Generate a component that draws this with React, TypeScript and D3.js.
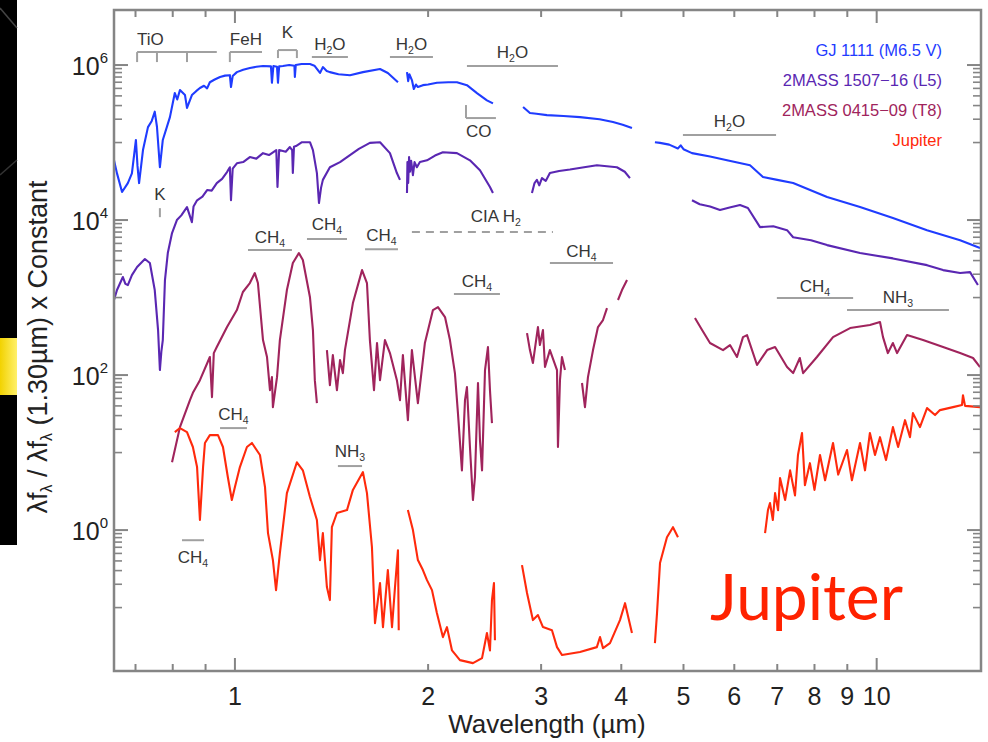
import React from 'react';
import * as d3 from 'd3';

// ---------- DATA (wavelength µm, λfλ normalised) ----------
const gjSeg1: [number, number][] = [[0.648,5.9e4],[0.655,4.0e4],[0.667,2.3e4],[0.681,3.0e4],[0.691,4.0e4],[0.701,1.08e5],[0.705,5.0e4],[0.709,3.0e4],[0.719,8.0e4],[0.732,1.58e5],[0.742,1.9e5],[0.750,2.5e5],[0.756,1.6e5],[0.764,4.8e4],[0.772,1.08e5],[0.792,2.13e5],[0.806,4.35e5],[0.813,3.6e5],[0.821,4.75e5],[0.836,4.1e5],[0.842,2.8e5],[0.857,4.1e5],[0.870,4.6e5],[0.882,5.05e5],[0.895,5.4e5],[0.905,5.0e5],[0.914,6.0e5],[0.930,6.5e5],[0.948,7.0e5],[0.965,7.3e5],[0.982,7.4e5],[0.986,5.2e5],[0.992,7.2e5],[1.007,8.1e5],[1.03,8.7e5],[1.055,9.15e5],[1.08,9.5e5],[1.106,9.7e5],[1.138,9.6e5],[1.142,5.9e5],[1.148,9.7e5],[1.163,9.5e5],[1.167,5.9e5],[1.172,9.6e5],[1.188,9.7e5],[1.215,1.0e6],[1.238,9.8e5],[1.240,7.0e5],[1.244,1.0e6],[1.270,1.03e6],[1.309,1.03e6],[1.33,9.8e5],[1.357,7.9e5],[1.371,9.4e5],[1.39,8.4e5],[1.406,8.1e5],[1.45,7.6e5],[1.511,7.4e5],[1.583,8.1e5],[1.683,8.9e5],[1.731,7.9e5],[1.795,6.0e5]];
const gjSeg2: [number, number][] = [[1.854,8.1e5],[1.862,6.2e5],[1.870,7.6e5],[1.887,6.4e5],[1.900,4.9e5],[1.915,5.6e5],[1.928,5.2e5],[1.963,5.5e5],[2.0,5.6e5],[2.064,5.9e5],[2.15,6.0e5],[2.218,6.0e5],[2.299,5.5e5],[2.383,4.35e5],[2.470,3.5e5],[2.524,3.2e5]];
const gjSeg3: [number, number][] = [[2.812,2.87e5],[2.882,2.4e5],[2.95,2.35e5],[3.063,2.26e5],[3.25,2.2e5],[3.449,2.13e5],[3.7,2.0e5],[3.883,1.84e5],[4.02,1.7e5],[4.156,1.54e5]];
const gjSeg4: [number, number][] = [[4.513,1.01e5],[4.596,9.9e4],[4.75,9.4e4],[4.90,8.4e4],[4.95,9.2e4],[5.0,8.2e4],[5.155,7.3e4],[5.5,6.6e4],[5.845,5.9e4],[6.348,5.1e4],[6.65,3.6e4],[7.0,3.3e4],[7.41,3.0e4],[8.37,1.98e4],[9.42,1.47e4],[10.6,1.06e4],[11.98,7.4e3],[13.49,5.5e3],[14.49,4.35e3]];

const l5Seg1: [number, number][] = [[0.648,930],[0.655,1250],[0.669,1840],[0.675,1500],[0.681,1450],[0.691,1950],[0.704,2480],[0.724,3140],[0.737,2790],[0.750,1250],[0.759,381],[0.764,116],[0.768,200],[0.772,283],[0.778,1680],[0.786,3750],[0.798,6800],[0.812,1.0e4],[0.825,1.15e4],[0.842,1.47e4],[0.857,9400],[0.862,1.5e4],[0.873,1.8e4],[0.89,2.0e4],[0.905,2.44e4],[0.92,2.4e4],[0.937,3.0e4],[0.955,3.4e4],[0.972,4.16e4],[0.982,4.8e4],[0.986,1.8e4],[0.992,4.6e4],[1.007,5.4e4],[1.03,5.6e4],[1.055,6.5e4],[1.08,6.2e4],[1.106,7.3e4],[1.13,6.9e4],[1.160,8.0e4],[1.165,2.67e4],[1.172,8.0e4],[1.2,7.6e4],[1.218,8.75e4],[1.228,8.0e4],[1.231,4.04e4],[1.236,8.8e4],[1.245,9.0e4],[1.272,1.01e5],[1.309,1.01e5],[1.323,8.0e4],[1.342,4.04e4],[1.352,1.66e4],[1.362,2.6e4],[1.371,3.3e4],[1.406,4.8e4],[1.458,5.6e4],[1.511,6.9e4],[1.56,8.3e4],[1.623,9.9e4],[1.683,1.01e5],[1.744,7.3e4],[1.788,4.04e4],[1.808,3.3e4]];
const l5Seg2: [number, number][] = [[1.854,2.23e4],[1.857,5.6e4],[1.862,3.0e4],[1.868,6.5e4],[1.874,4.2e4],[1.882,5.8e4],[1.894,3.8e4],[1.905,5.6e4],[1.921,4.8e4],[1.942,5.6e4],[1.992,5.9e4],[2.05,6.8e4],[2.109,7.5e4],[2.218,7.3e4],[2.324,5.9e4],[2.409,4.4e4],[2.497,2.67e4],[2.524,2.23e4]];
const l5Seg3: [number, number][] = [[2.903,2.23e4],[2.93,3.0e4],[2.955,3.3e4],[2.98,2.8e4],[3.009,3.48e4],[3.05,3.2e4],[3.096,4.04e4],[3.2,4.3e4],[3.327,4.49e4],[3.5,4.8e4],[3.665,5.1e4],[3.937,4.8e4],[4.05,4.2e4],[4.126,3.48e4]];
const l5Seg4: [number, number][] = [[5.155,1.8e4],[5.3,1.6e4],[5.5,1.5e4],[5.70,1.35e4],[5.9,1.45e4],[6.124,1.56e4],[6.30,1.43e4],[6.58,8.1e3],[6.9,8.3e3],[7.25,7.4e3],[7.41,6.0e3],[7.9,5.5e3],[8.37,4.75e3],[9.42,3.75e3],[10.6,3.2e3],[11.98,2.62e3],[12.69,2.26e3],[13.49,2.07e3],[13.98,2.13e3],[14.38,1.45e3]];

const t8Seg1: [number, number][] = [[0.798,7.5],[0.821,21.3],[0.851,47.5],[0.860,59],[0.882,86],[0.914,171],[0.921,52],[0.927,192],[0.937,230],[0.972,416],[1.007,690],[1.029,1180],[1.055,1540],[1.074,2070],[1.086,1540],[1.106,283],[1.122,171],[1.134,64],[1.142,94],[1.146,38.6],[1.163,94],[1.175,283],[1.205,1250],[1.231,2790],[1.258,3750],[1.276,3050],[1.309,1010],[1.323,381],[1.332,86],[1.342,43.5]];
const t8Seg2: [number, number][] = [[1.391,210],[1.406,74],[1.421,181],[1.442,64],[1.458,156],[1.473,106],[1.484,210],[1.527,849],[1.578,2260],[1.606,1540],[1.623,283],[1.647,64],[1.665,259],[1.683,86],[1.713,283],[1.744,192],[1.788,86],[1.808,47.5],[1.827,181],[1.860,26.2],[1.887,210],[1.928,43.5],[1.977,259],[2.035,690],[2.072,754],[2.125,560],[2.163,283],[2.202,106],[2.226,32.3],[2.258,5.9],[2.283,47.5],[2.299,70],[2.324,11.8],[2.349,2.44],[2.366,4.8],[2.392,79],[2.409,14.5],[2.427,5.9],[2.453,116],[2.479,230],[2.497,64],[2.515,24]];
const t8Seg3: [number, number][] = [[2.852,348],[2.882,210],[2.913,143],[2.966,416],[2.987,244],[3.020,381],[3.042,127],[3.096,210],[3.176,116],[3.187,11.8],[3.21,86],[3.233,171],[3.268,116]];
const t8Seg4: [number, number][] = [[3.474,79],[3.511,38.6],[3.549,94],[3.614,210],[3.679,416],[3.746,513],[3.800,732]];
const t8Seg5: [number, number][] = [[3.953,930],[4.010,1250],[4.083,1680]];
const t8Seg6: [number, number][] = [[5.21,544],[5.345,381],[5.499,259],[5.762,210],[5.908,244],[6.058,171],[6.19,309],[6.28,328],[6.51,135],[6.75,210],[6.945,230],[7.25,127],[7.41,106],[7.59,166],[7.68,106],[8.07,171],[8.55,309],[9.09,404],[9.76,442],[10.12,483],[10.23,309],[10.41,192],[10.6,259],[10.76,192],[11.15,328],[11.81,283],[12.69,230],[13.49,192],[14.13,166],[14.49,127]];

const jupSeg1: [number, number][] = [[0.806,18.4],[0.821,20.7],[0.842,18.4],[0.860,11.8],[0.873,6.5],[0.882,1.35],[0.892,6.5],[0.898,13.3],[0.914,16.8],[0.941,16.8],[0.958,11.8],[0.975,4.8],[0.989,2.44],[1.0,3.59],[1.018,6.5],[1.044,11.8],[1.063,13.3],[1.094,9.3],[1.114,3.59],[1.126,0.915],[1.146,0.41],[1.159,0.168],[1.175,0.505],[1.205,3.0],[1.249,7.5],[1.276,5.9],[1.309,2.67],[1.342,1.35],[1.357,0.41],[1.371,0.915],[1.391,0.184],[1.406,0.125],[1.416,1.09],[1.442,1.66],[1.495,1.81],[1.527,3.3],[1.583,5.6],[1.606,3.0],[1.635,0.60],[1.653,0.063],[1.683,0.207],[1.701,0.056],[1.731,0.305],[1.757,0.056],[1.776,0.184],[1.795,0.55],[1.80,0.051]];
const jupSeg2: [number, number][] = [[1.860,1.81],[1.894,1.0],[1.928,0.41],[1.963,0.305],[1.992,0.226],[2.028,0.168],[2.064,0.085],[2.109,0.0416],[2.14,0.056],[2.179,0.028],[2.242,0.021],[2.349,0.0192],[2.427,0.0223],[2.470,0.047],[2.497,0.028],[2.515,0.125],[2.533,0.207],[2.542,0.038]];
const jupSeg3: [number, number][] = [[2.801,0.353],[2.852,0.154],[2.913,0.069],[2.966,0.08],[3.020,0.056],[3.119,0.051],[3.176,0.0309],[3.233,0.0244],[3.449,0.0267],[3.664,0.0309],[3.706,0.0416],[3.746,0.03],[3.841,0.0348],[3.981,0.069],[4.054,0.114],[4.156,0.047]];
const jupSeg4: [number, number][] = [[4.513,0.0348],[4.547,0.085],[4.596,0.375],[4.712,0.81],[4.815,1.09],[4.902,0.81]];
const jupSeg5: [number, number][] = [[6.70,0.915],[6.77,1.81],[6.82,2.23],[6.89,1.35],[6.945,3.0],[7.02,1.81],[7.07,4.69],[7.20,2.44],[7.33,5.9],[7.46,2.8],[7.54,9.3],[7.65,17.9],[7.73,3.8],[7.87,7.3],[8.0,3.3],[8.16,9.3],[8.31,4.4],[8.55,13.3],[8.71,5.2],[8.99,10.8],[9.15,4.4],[9.42,13.3],[9.59,5.9],[9.76,17.9],[9.94,9.3],[10.12,15.8],[10.34,8.0],[10.6,21.3],[10.80,11.8],[11.07,26.2],[11.27,15.8],[11.39,32.3],[11.68,21.3],[11.98,37.5],[12.33,30.5],[12.55,35.3],[13.15,38.6],[13.58,41],[13.63,55],[13.73,40],[14.49,38.6]];

const seriesNames = ['GJ 1111 (M6.5 V)', '2MASS 1507\u221216 (L5)', '2MASS 0415\u221209 (T8)', 'Jupiter'];
const seriesColors = ['#1f3cff', '#5a27b2', '#a0245c', '#ff2a0c'];
const seriesSegments = [
  [gjSeg1, gjSeg2, gjSeg3, gjSeg4],
  [l5Seg1, l5Seg2, l5Seg3, l5Seg4],
  [t8Seg1, t8Seg2, t8Seg3, t8Seg4, t8Seg5, t8Seg6],
  [jupSeg1, jupSeg2, jupSeg3, jupSeg4, jupSeg5],
];

const xTickValues = [0.7, 0.8, 0.9, 1, 2, 3, 4, 5, 6, 7, 8, 9, 10];
const xLabelValues = [1, 2, 3, 4, 5, 6, 7, 8, 9, 10];
const xLongTicks = [1, 10];
const yMajorValues = [1, 1e2, 1e4, 1e6];
const yMajorExponents = ['0', '2', '4', '6'];
const yMinorFactors = [0.1, 0.2, 0.3, 0.4, 0.5, 0.6, 0.7, 0.8, 0.9];

type Ann = { parts: string[]; lo: number; hi: number; level: number; ticks?: number[]; tickDir?: number; tickLen?: number; anchor?: string; gap?: number; below?: boolean; dashed?: boolean; at?: number };
const annotations: Ann[] = [
  { parts: ['TiO'], lo: 0.704, hi: 0.937, level: 1.47e6, ticks: [0.704, 0.756, 0.842], tickDir: 1, tickLen: 10, anchor: 'start' },
  { parts: ['FeH'], lo: 0.982, hi: 1.102, level: 1.47e6, ticks: [0.982], tickDir: 1, tickLen: 10, anchor: 'start' },
  { parts: ['K'], lo: 1.167, hi: 1.249, level: 1.56e6, ticks: [1.167, 1.249], tickDir: 1, tickLen: 8, gap: 12 },
  { parts: ['H', '2', 'O'], lo: 1.318, hi: 1.50, level: 1.27e6 },
  { parts: ['H', '2', 'O'], lo: 1.744, hi: 2.035, level: 1.27e6 },
  { parts: ['H', '2', 'O'], lo: 2.299, hi: 3.187, level: 9.7e5, gap: 8 },
  { parts: ['CO'], lo: 2.291, hi: 2.551, level: 2.07e5, ticks: [2.291], tickDir: -1, tickLen: 13, anchor: 'start', below: true, gap: 19 },
  { parts: ['K'], lo: 0.764, hi: 0.764, level: 1.09e4, ticks: [0.764], tickDir: -1, tickLen: 9, gap: 17 },
  { parts: ['H', '2', 'O'], lo: 4.99, hi: 6.97, level: 1.25e5, gap: 8 },
  { parts: ['CIA H', '2'], lo: 1.887, hi: 3.13, level: 7.0e3, dashed: true, at: 2.55, gap: 10 },
  { parts: ['CH', '4'], lo: 1.048, hi: 1.227, level: 4.1e3 },
  { parts: ['CH', '4'], lo: 1.295, hi: 1.495, level: 5.7e3, gap: 9 },
  { parts: ['CH', '4'], lo: 1.595, hi: 1.795, level: 4.2e3, gap: 8 },
  { parts: ['CH', '4'], lo: 2.194, hi: 2.588, level: 1.11e3 },
  { parts: ['CH', '4'], lo: 3.096, hi: 3.883, level: 2.79e3, gap: 6 },
  { parts: ['CH', '4'], lo: 0.948, hi: 1.044, level: 20.7, gap: 8 },
  { parts: ['CH', '4'], lo: 0.827, hi: 0.895, level: 0.74, below: true, gap: 23 },
  { parts: ['CH', '4'], lo: 6.99, hi: 9.19, level: 985, gap: 6 },
  { parts: ['NH', '3'], lo: 1.447, hi: 1.578, level: 6.7, gap: 9 },
  { parts: ['NH', '3'], lo: 8.99, hi: 12.96, level: 690 },
];

// ---------- LAYOUT ----------
const W = 988, H = 742;
const M = { left: 114, right: 981, top: 10, bottom: 671 };
const FONT = '"Liberation Sans", Arial, Helvetica, sans-serif';

function SubText({ x, y, parts, anchor = 'middle', size = 17, fill = '#363636' }: any) {
  return (
    <text x={x} y={y} textAnchor={anchor} fontSize={size} fill={fill} fontFamily={FONT}>
      {parts.map((p: string, i: number) =>
        i % 2 === 1 ? (
          <tspan key={i} fontSize={size * 0.62} dy={4}>{p}</tspan>
        ) : (
          <tspan key={i} dy={i > 0 ? -4 : 0}>{p}</tspan>
        )
      )}
    </text>
  );
}

export default function App() {
  const x = d3.scaleLog().domain([0.648, 14.54]).range([M.left, M.right]);
  const y = d3.scaleLog().domain([0.0152, 5.13e6]).range([M.bottom, M.top]);
  const line = d3.line<[number, number]>().x(d => x(d[0])).y(d => y(d[1]));

  const yMinor: number[] = [];
  yMajorValues.forEach(m => yMinorFactors.forEach(f => yMinor.push(m * f)));

  const axisColor = '#858585';

  return (
    <svg width={W} height={H} style={{ position: 'absolute', left: 0, top: 0, background: '#fff' }}>
      <rect x={0} y={0} width={W} height={H} fill="#fff" />
      {/* slide background strip */}
      <rect x={0} y={0} width={17} height={545} fill="#000" />
      <line x1={0} y1={8} x2={17} y2={28} stroke="#444" strokeWidth={1.5} />
      <line x1={0} y1={175} x2={17} y2={160} stroke="#333" strokeWidth={1.5} />
      <defs>
        <linearGradient id="yel" x1="0" x2="1" y1="0" y2="0">
          <stop offset="0" stopColor="#f2d200" />
          <stop offset="1" stopColor="#fff06a" />
        </linearGradient>
        <clipPath id="clip"><rect x={M.left} y={M.top} width={M.right - M.left} height={M.bottom - M.top} /></clipPath>
      </defs>
      <rect x={0} y={338} width={17} height={57} fill="url(#yel)" />

      {/* spectra */}
      <g clipPath="url(#clip)">
        {seriesSegments.map((segs, si) =>
          segs.map((seg, k) => (
            <path key={si + '-' + k} d={line(seg) || ''} fill="none" stroke={seriesColors[si]} strokeWidth={2.1} strokeLinejoin="round" />
          ))
        )}
      </g>

      {/* annotations */}
      {annotations.map((a, i) => {
        const ly = y(a.level);
        const x0 = x(a.lo), x1 = x(a.hi);
        const gap = a.gap ?? 7;
        const anchor = a.anchor ?? 'middle';
        const tx = a.at ? x(a.at) : anchor === 'start' ? x0 : (x0 + x1) / 2;
        const ty = a.below ? ly + gap : ly - gap;
        return (
          <g key={i}>
            {x1 > x0 && (
              <line x1={x0} x2={x1} y1={ly} y2={ly} stroke="#a0a0a0" strokeWidth={2} strokeDasharray={a.dashed ? '8 6' : undefined} />
            )}
            {(a.ticks || []).map((t, j) => (
              <line key={j} x1={x(t)} x2={x(t)} y1={ly} y2={ly + (a.tickDir ?? 1) * (a.tickLen ?? 10)} stroke="#a0a0a0" strokeWidth={2} />
            ))}
            <SubText x={tx} y={a.tickDir === -1 && x1 === x0 ? ly - (a.tickLen ?? 0) - gap + 9 : ty} parts={a.parts} anchor={anchor} />
          </g>
        );
      })}

      {/* legend */}
      {seriesNames.map((n, i) => (
        <text key={n} x={942} y={[56, 86, 116, 146][i]} textAnchor="end" fontSize={16.5} fill={seriesColors[i]} fontFamily={FONT}>{n}</text>
      ))}

      {/* frame */}
      <rect x={M.left} y={M.top} width={M.right - M.left} height={M.bottom - M.top} fill="none" stroke={axisColor} strokeWidth={2.5} />

      {/* x ticks */}
      {xTickValues.map(v => {
        const len = xLongTicks.includes(v) ? 13 : 7;
        return (
          <g key={'xt' + v}>
            <line x1={x(v)} x2={x(v)} y1={M.bottom} y2={M.bottom - len} stroke={axisColor} strokeWidth={2} />
            <line x1={x(v)} x2={x(v)} y1={M.top} y2={M.top + len} stroke={axisColor} strokeWidth={2} />
          </g>
        );
      })}
      {xLabelValues.map(v => (
        <text key={'xl' + v} x={x(v)} y={705} textAnchor="middle" fontSize={25} fill="#222" fontFamily={FONT}>{String(v)}</text>
      ))}
      <text x={547} y={733} textAnchor="middle" fontSize={26} fill="#222" fontFamily={FONT}>Wavelength (µm)</text>

      {/* y ticks */}
      {yMajorValues.map(v => (
        <g key={'ym' + v}>
          <line x1={M.left} x2={M.left + 14} y1={y(v)} y2={y(v)} stroke={axisColor} strokeWidth={2} />
          <line x1={M.right} x2={M.right - 14} y1={y(v)} y2={y(v)} stroke={axisColor} strokeWidth={2} />
        </g>
      ))}
      {yMinor.map(v => (
        <g key={'yn' + v}>
          <line x1={M.left} x2={M.left + 8} y1={y(v)} y2={y(v)} stroke={axisColor} strokeWidth={1.6} />
          <line x1={M.right} x2={M.right - 8} y1={y(v)} y2={y(v)} stroke={axisColor} strokeWidth={1.6} />
        </g>
      ))}
      {yMajorValues.map((v, i) => (
        <text key={'yl' + v} x={108} y={y(v) + 10} textAnchor="end" fontSize={25} fill="#222" fontFamily={FONT}>
          10<tspan fontSize={15} dy={-12}>{yMajorExponents[i]}</tspan>
        </text>
      ))}

      {/* y title */}
      <text transform="translate(47,347) rotate(-90)" textAnchor="middle" fontSize={27} fill="#222" fontFamily={FONT}>
        λf<tspan fontSize={16} dy={5}>λ</tspan>
        <tspan dy={-5}> / λf</tspan>
        <tspan fontSize={16} dy={5}>λ</tspan>
        <tspan dy={-5}> (1.30µm) x Constant</tspan>
      </text>

      {/* big slide label */}
      <text x={710} y={620} fontSize={64} fill="#ff2200" fontFamily='"Gill Sans", Lato, "Open Sans", sans-serif'>Jupiter</text>
    </svg>
  );
}
